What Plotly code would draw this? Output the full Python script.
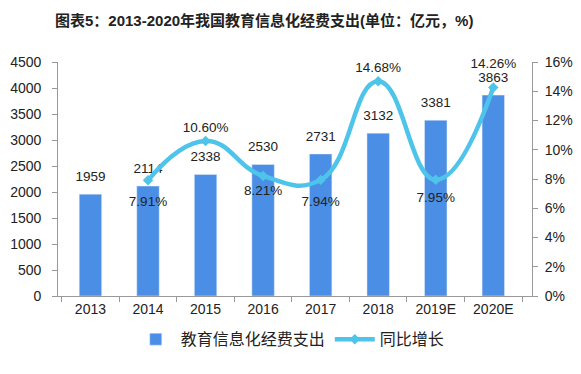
import plotly.graph_objects as go

years = ["2013", "2014", "2015", "2016", "2017", "2018", "2019E", "2020E"]
spend = [1959, 2114, 2338, 2530, 2731, 3132, 3381, 3863]
growth_years = years[1:]
growth = [7.91, 10.60, 8.21, 7.94, 14.68, 7.95, 14.26]
left_ticks = list(range(0, 4501, 500))
right_ticks = list(range(0, 17, 2))

# label placement (style): side and spacing of each growth label
growth_pos = ["bottom center", "top center", "bottom center", "bottom center",
              "top center", "bottom center", "top center"]
growth_pad = [24, 8, 12, 24, 8, 18, 24]

font = "Liberation Sans, Noto Sans CJK SC, sans-serif"
W, H = 573, 366  # page body has an 8px margin
NB = "\u00a0"
CLEAR = "rgba(0,0,0,0)"

fig = go.Figure()
fig.add_trace(go.Bar(
    x=years, y=spend, name="教育信息化经费支出",
    marker_color="#4a8ee6", width=0.39,
))
fig.add_trace(go.Scatter(
    x=growth_years, y=growth, name="同比增长", yaxis="y2",
    mode="lines+markers",
    line=dict(color="#4fc4ea", width=4.5, shape="spline", smoothing=1.3),
    marker=dict(symbol="diamond", size=8, color="#4fc4ea"),
    cliponaxis=False,
))
# value labels of the bars
fig.add_trace(go.Scatter(
    x=years, y=spend, mode="markers+text", showlegend=False, hoverinfo="skip",
    marker=dict(size=14, color=CLEAR, line=dict(width=0, color=CLEAR)),
    text=[str(v) for v in spend],
    textposition="top center", textfont=dict(size=13.5, color="#222"),
    cliponaxis=False,
))
# value labels of the growth line
fig.add_trace(go.Scatter(
    x=growth_years, y=growth, yaxis="y2", mode="markers+text", showlegend=False,
    hoverinfo="skip",
    marker=dict(size=growth_pad, color=CLEAR, line=dict(width=0, color=CLEAR)),
    text=[f"{v:.2f}%" for v in growth], textposition=growth_pos,
    textfont=dict(size=13.5, color="#222"), cliponaxis=False,
))

fig.update_layout(
    width=W, height=H,
    margin=dict(l=50, r=49, t=54, b=78, autoexpand=False),
    paper_bgcolor="white", plot_bgcolor="white",
    font=dict(family=font, size=14, color="#222"),
    title=dict(text="<b>图表5：2013-2020年我国教育信息化经费支出(单位：亿元，%)</b>",
               x=47 / W, xanchor="left", xref="container",
               y=1 - 13 / H, yanchor="middle", yref="container",
               font=dict(size=15, color="#222")),
    showlegend=True,
    legend=dict(orientation="h", x=0.49, xanchor="center", y=-0.185, yanchor="middle",
                font=dict(size=16, color="#222"), itemwidth=40, tracegroupgap=20),
    xaxis=dict(type="category", showline=True, linecolor="#999", ticks="outside",
               tickson="boundaries", ticklen=5, tickcolor="#999", showgrid=False,
               tickfont=dict(size=14)),
    yaxis=dict(range=[0, 4500], tickvals=left_ticks,
               ticktext=[f"{v}{NB}{NB}" for v in left_ticks],
               showline=True, linecolor="#999",
               ticks="outside", ticklen=5, tickcolor="#999", showgrid=False, zeroline=False,
               tickfont=dict(size=14)),
    yaxis2=dict(range=[0, 16], tickvals=right_ticks,
                ticktext=[f"{NB}{v}%" for v in right_ticks],
                overlaying="y", side="right", showline=True, linecolor="#999",
                ticks="outside", ticklen=5, tickcolor="#999", showgrid=False, zeroline=False,
                tickfont=dict(size=14)),
    bargap=0.6,
)

fig.write_html("out.html")
